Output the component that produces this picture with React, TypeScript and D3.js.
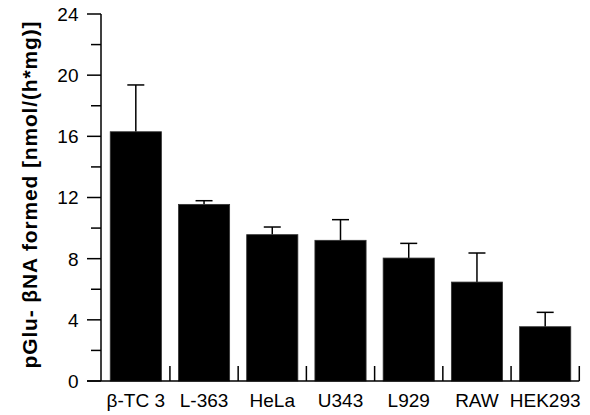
import React from "react";
import * as d3 from "d3";

const categories = ["β-TC 3", "L-363", "HeLa", "U343", "L929", "RAW", "HEK293"];
const means = [16.3, 11.55, 9.57, 9.2, 8.04, 6.47, 3.55];
const errors = [3.06, 0.24, 0.5, 1.35, 0.96, 1.9, 0.94];
const majorTicks = [0, 4, 8, 12, 16, 20, 24];
const minorTicks = [2, 6, 10, 14, 18, 22];
const yTitle = "pGlu- βNA formed [nmol/(h*mg)]";

const W = 590;
const H = 415;
const axisX = 101;
const x0 = 101.7;
const x1 = 579.3;
const yTop = 14;
const yBottom = 381;
const font = "'Liberation Sans', Arial, Helvetica, sans-serif";

export default function App() {
  const x = d3.scaleBand<string>().domain(categories).range([x0, x1]).paddingInner(0.25).paddingOuter(0.125);
  const band = d3.scaleBand<string>().domain(categories).range([x0, x1]).padding(0);
  const y = d3.scaleLinear().domain([0, 24]).range([yBottom, yTop]);
  const boundaries = categories.map((c) => (band(c) as number) + band.bandwidth());

  return (
    <svg width={W} height={H} style={{ position: "absolute", left: 0, top: 0, background: "#fff" }}>
      {/* bars */}
      {categories.map((c, i) => {
        const bx = x(c) as number;
        const bw = x.bandwidth();
        const cx = bx + bw / 2;
        return (
          <g key={c}>
            <line x1={cx} x2={cx} y1={y(means[i])} y2={y(means[i] + errors[i])} stroke="#000" strokeWidth={1.5} />
            <line x1={cx - 8.5} x2={cx + 8.5} y1={y(means[i] + errors[i])} y2={y(means[i] + errors[i])} stroke="#000" strokeWidth={1.5} />
            <rect x={bx} y={y(means[i])} width={bw} height={yBottom - y(means[i])} fill="#000" stroke="#333" strokeWidth={0.8} />
          </g>
        );
      })}
      {/* y axis */}
      <line x1={axisX} x2={axisX} y1={yTop} y2={yBottom} stroke="#000" strokeWidth={1.5} />
      {majorTicks.map((t) => (
        <g key={"M" + t}>
          <line x1={axisX - 14} x2={axisX} y1={y(t)} y2={y(t)} stroke="#000" strokeWidth={1.5} />
          <text x={78.5} y={y(t)} dy="0.36em" textAnchor="end" fontFamily={font} fontSize={19} fill="#000">
            {t}
          </text>
        </g>
      ))}
      {minorTicks.map((t) => (
        <line key={"m" + t} x1={axisX - 10} x2={axisX} y1={y(t)} y2={y(t)} stroke="#000" strokeWidth={1.5} />
      ))}
      {/* x axis */}
      <line x1={axisX - 14} x2={x1} y1={yBottom} y2={yBottom} stroke="#000" strokeWidth={1.5} />
      {boundaries.map((b, i) => (
        <line key={"b" + i} x1={b} x2={b} y1={yBottom} y2={yBottom - 15} stroke="#000" strokeWidth={1.5} />
      ))}
      {categories.map((c) => (
        <text key={"l" + c} x={(x(c) as number) + x.bandwidth() / 2} y={407} textAnchor="middle" fontFamily={font} fontSize={19} fill="#000">
          {c}
        </text>
      ))}
      <text
        transform={`translate(37, 194.5) rotate(-90)`}
        textAnchor="middle"
        fontFamily={font}
        fontSize={21}
        fontWeight="bold"
        letterSpacing={0.85}
        fill="#000"
      >
        {yTitle}
      </text>
    </svg>
  );
}
